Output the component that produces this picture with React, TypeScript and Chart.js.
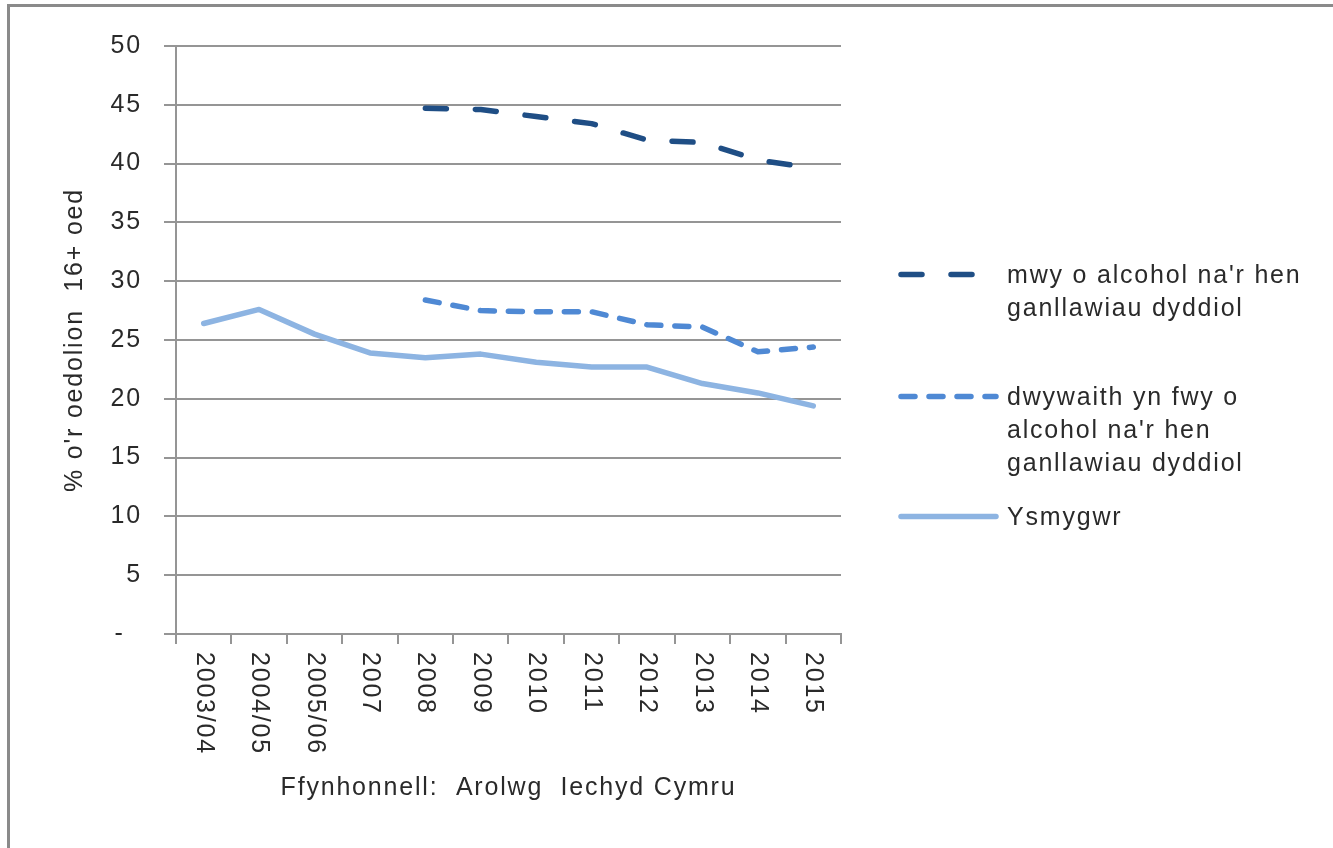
import React, { useEffect, useRef } from "react";
import { Chart, registerables } from "chart.js";

Chart.register(...registerables);

const categories = ["2003/04", "2004/05", "2005/06", "2007", "2008", "2009", "2010", "2011", "2012", "2013", "2014", "2015"];
const heavyDrinking = [null, null, null, null, 44.7, 44.6, 44.0, 43.4, 42.0, 41.8, 40.3, 39.6];
const bingeDrinking = [null, null, null, null, 28.4, 27.5, 27.4, 27.4, 26.3, 26.1, 24.0, 24.4];
const smokers = [26.4, 27.6, 25.5, 23.9, 23.5, 23.8, 23.1, 22.7, 22.7, 21.3, 20.5, 19.4];
const seriesLabels = [
  "mwy o alcohol na'r hen\nganllawiau dyddiol",
  "dwywaith yn fwy o\nalcohol na'r hen\nganllawiau dyddiol",
  "Ysmygwr",
];
const yAxisTitle = "% o'r oedolion  16+ oed";
const sourceNote = "Ffynhonnell:  Arolwg  Iechyd Cymru";
const yMin = 0;
const yMax = 50;
const yStep = 5;

const DARK = "#1F4E85";
const MID = "#4F89D4";
const LIGHT = "#8DB4E2";
const GRID = "#959595";
const TEXT = "#2a2a2a";
const FONT = '"Liberation Sans", Arial, sans-serif';
const FS = 25;
const LS = "1.8px";
const LW = 5.5;

const spacingPlugin = {
  id: "spacingPlugin",
  beforeLayout(chart: any) {
    chart.ctx.letterSpacing = LS;
  },
  beforeDraw(chart: any) {
    chart.ctx.letterSpacing = LS;
  },
};

const xLabelPlugin = {
  id: "xLabelPlugin",
  afterDraw(chart: any) {
    const ctx = chart.ctx;
    const xs = chart.scales.x;
    ctx.save();
    ctx.letterSpacing = LS;
    ctx.font = `${FS}px ${FONT}`;
    ctx.fillStyle = TEXT;
    ctx.textAlign = "left";
    ctx.textBaseline = "middle";
    categories.forEach((c, i) => {
      const x = xs.getPixelForValue(i);
      ctx.save();
      ctx.translate(x, xs.top + 18);
      ctx.rotate(Math.PI / 2);
      ctx.fillText(c, 0, 0);
      ctx.restore();
    });
    ctx.restore();
  },
};

const legendItems = [
  { label: seriesLabels[0], color: DARK, dash: "21 29", top: 258 },
  { label: seriesLabels[1], color: MID, dash: "14 14", top: 380 },
  { label: seriesLabels[2], color: LIGHT, dash: "", top: 500 },
];

export default function App() {
  const ref = useRef<HTMLCanvasElement | null>(null);

  useEffect(() => {
    if (!ref.current) return;
    const chart = new Chart(ref.current, {
      type: "line",
      data: {
        labels: categories,
        datasets: [
          {
            label: seriesLabels[0],
            data: heavyDrinking,
            borderColor: DARK,
            backgroundColor: DARK,
            borderWidth: LW,
            borderDash: [21, 29],
            borderCapStyle: "round",
            borderJoinStyle: "round",
            pointRadius: 0,
            tension: 0,
          },
          {
            label: seriesLabels[1],
            data: bingeDrinking,
            borderColor: MID,
            backgroundColor: MID,
            borderWidth: LW,
            borderDash: [14, 14],
            borderCapStyle: "round",
            borderJoinStyle: "round",
            pointRadius: 0,
            tension: 0,
          },
          {
            label: seriesLabels[2],
            data: smokers,
            borderColor: LIGHT,
            backgroundColor: LIGHT,
            borderWidth: LW,
            borderCapStyle: "round",
            borderJoinStyle: "round",
            pointRadius: 0,
            tension: 0,
            order: 3,
          },
        ] as any,
      },
      options: {
        animation: false,
        responsive: false,
        maintainAspectRatio: false,
        layout: { padding: { top: 46, right: 492, bottom: 0, left: 0 } },
        plugins: {
          legend: { display: false },
          tooltip: { enabled: false },
        },
        scales: {
          x: {
            offset: true,
            afterFit: (s: any) => {
              s.height = 214;
            },
            grid: {
              offset: true,
              drawOnChartArea: false,
              drawTicks: true,
              tickLength: 10,
              color: GRID,
              lineWidth: 2,
            },
            border: { color: GRID, width: 2 },
            ticks: { display: false },
            title: {
              display: true,
              text: sourceNote,
              color: TEXT,
              font: { family: FONT, size: FS, lineHeight: 1.2 },
              padding: { top: 0, bottom: 45 },
            },
          },
          y: {
            min: yMin,
            max: yMax,
            afterFit: (s: any) => {
              s.width = 176;
            },
            ticks: {
              stepSize: yStep,
              padding: 22,
              color: TEXT,
              font: { family: FONT, size: FS },
              callback: (v: any) => (Number(v) === 0 ? "-  " : String(v)),
            },
            grid: {
              color: GRID,
              lineWidth: 2,
              tickLength: 12,
              drawTicks: true,
            },
            border: { color: GRID, width: 2 },
            title: {
              display: true,
              text: yAxisTitle,
              color: TEXT,
              font: { family: FONT, size: FS, lineHeight: 1.2 },
              padding: { top: 60, bottom: 0 },
            },
          },
        },
      } as any,
      plugins: [spacingPlugin, xLabelPlugin],
    });
    return () => chart.destroy();
  }, []);

  return (
    <div style={{ position: "fixed", left: 0, top: 0, width: 1333, height: 848, background: "#fff", overflow: "hidden" }}>
      <div
        style={{
          position: "absolute",
          left: 7,
          top: 4,
          width: 1326,
          height: 844,
          boxSizing: "border-box",
          borderTop: "3px solid #8a8a8a",
          borderLeft: "3px solid #8a8a8a",
        }}
      />
      <canvas ref={ref} width={1333} height={848} style={{ position: "absolute", left: 0, top: 0, width: 1333, height: 848 }} />
      {legendItems.map((it, i) => (
        <div key={i} style={{ position: "absolute", left: 0, top: it.top, width: 1333 }}>
          <svg width={106} height={33} style={{ position: "absolute", left: 896, top: 0 }}>
            <line
              x1={5}
              y1={16.5}
              x2={100}
              y2={16.5}
              stroke={it.color}
              strokeWidth={LW}
              strokeLinecap="round"
              strokeDasharray={it.dash || undefined}
            />
          </svg>
          <div
            style={{
              position: "absolute",
              left: 1007,
              top: 0,
              whiteSpace: "pre",
              fontFamily: FONT,
              fontSize: FS,
              letterSpacing: LS,
              lineHeight: "33px",
              color: TEXT,
            }}
          >
            {it.label}
          </div>
        </div>
      ))}
    </div>
  );
}
